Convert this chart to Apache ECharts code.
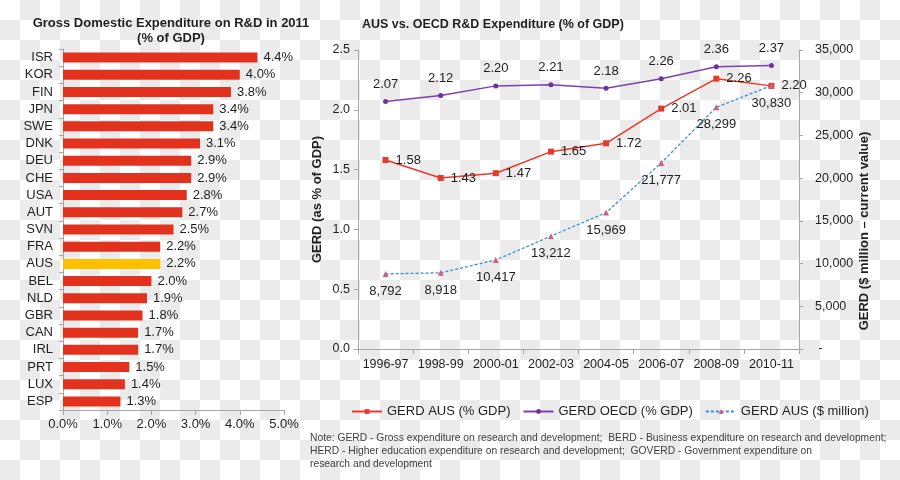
<!DOCTYPE html>
<html>
<head>
<meta charset="utf-8">
<script src="https://cdn.jsdelivr.net/npm/echarts@6/dist/echarts.min.js"></script>
<style>
html,body{margin:0;padding:0;}
body{width:900px;height:480px;background:#fff repeating-conic-gradient(#ebebeb 0 25%, #ffffff 0 50%) 0 0/40px 40px;}
#c{width:900px;height:480px;}
</style>
</head>
<body>
<div id="c"></div>
<script>
// ---- Left chart data ----
var countries = ['ISR','KOR','FIN','JPN','SWE','DNK','DEU','CHE','USA','AUT','SVN','FRA','AUS','BEL','NLD','GBR','CAN','IRL','PRT','LUX','ESP'];
var gerd2011 = [4.4,4.0,3.8,3.4,3.4,3.1,2.9,2.9,2.8,2.7,2.5,2.2,2.2,2.0,1.9,1.8,1.7,1.7,1.5,1.4,1.3];
var highlight = 'AUS';
var leftTicks = ['0.0%','1.0%','2.0%','3.0%','4.0%','5.0%'];

// ---- Right chart data ----
var years = ['1996-97','1998-99','2000-01','2002-03','2004-05','2006-07','2008-09','2010-11'];
var gerdAusPct = [1.58,1.43,1.47,1.65,1.72,2.01,2.26,2.20];
var gerdOecdPct = [2.07,2.12,2.20,2.21,2.18,2.26,2.36,2.37];
var gerdAusMil = [8792,8918,10417,13212,15969,21777,28299,30830];

var FONT = '"Liberation Sans", Arial, sans-serif';
var TXT = '#1f1f1f';
var AX = '#a6a6a6';

function fmtThousands(v){ return String(Math.round(v)).replace(/\B(?=(\d{3})+(?!\d))/g, ','); }

var chart = echarts.init(document.getElementById('c'), null, {renderer:'canvas'});
var option = {
  animation:false,
  textStyle:{fontFamily:FONT},
  title:[
    {text:'Gross Domestic Expenditure on R&D in 2011\n(% of GDP)', left:166, top:11, textAlign:'center',
     textStyle:{fontFamily:FONT, fontSize:13, fontWeight:'bold', color:TXT, lineHeight:15, align:'center'}},
    {text:'AUS vs. OECD R&D Expenditure (% of GDP)', left:357, top:13,
     textStyle:{fontFamily:FONT, fontSize:12.5, fontWeight:'bold', color:TXT}}
  ],
  grid:[
    {left:63, right:616, top:49, bottom:70},
    {left:358, right:101, top:50, bottom:131}
  ],
  legend:{
    left:346, top:400, itemWidth:30, itemHeight:6, itemGap:12,
    textStyle:{fontFamily:FONT, fontSize:13, color:TXT},
    data:['GERD AUS (% GDP)','GERD OECD (% GDP)','GERD AUS ($ million)']
  },
  xAxis:[
    {gridIndex:0, type:'value', min:0, max:5, interval:1,
     axisLine:{show:true, lineStyle:{color:AX}}, axisTick:{show:true, length:5, lineStyle:{color:AX}},
     splitLine:{show:false},
     axisLabel:{color:TXT, fontSize:13, margin:8, formatter:function(v){return leftTicks[Math.round(v)];}}},
    {gridIndex:1, type:'category', data:years, boundaryGap:true,
     axisLine:{lineStyle:{color:AX}}, axisTick:{show:true, length:5, interval:0, alignWithLabel:false, lineStyle:{color:AX}},
     axisLabel:{color:TXT, fontSize:12.5, margin:9, interval:0, hideOverlap:false}}
  ],
  yAxis:[
    {gridIndex:0, type:'category', data:countries, inverse:true,
     axisLine:{lineStyle:{color:AX}}, axisTick:{show:true, length:4, lineStyle:{color:AX}},
     axisLabel:{color:TXT, fontSize:13, margin:10}},
    {gridIndex:1, type:'value', min:0, max:2.5, interval:0.5,
     name:'GERD (as % of GDP)', nameLocation:'middle', nameGap:34, nameRotate:90,
     nameTextStyle:{fontFamily:FONT, fontSize:13, fontWeight:'bold', color:TXT},
     axisLine:{show:true, lineStyle:{color:AX}}, axisTick:{show:true, length:4, lineStyle:{color:AX}},
     splitLine:{show:false},
     axisLabel:{color:TXT, fontSize:12.5, margin:8, formatter:function(v){return v.toFixed(1);}}},
    {gridIndex:1, type:'value', position:'right', min:0, max:35000, interval:5000,
     axisLine:{show:true, lineStyle:{color:AX}}, axisTick:{show:true, length:4, lineStyle:{color:AX}},
     splitLine:{show:false},
     axisLabel:{color:TXT, fontSize:12.5, margin:16, align:'left', formatter:function(v){return v===0?' -':fmtThousands(v);}}}
  ],
  graphic:[
    {type:'text', x:864, y:231, rotation:Math.PI/2,
     style:{text:'GERD ($ million \u2013 current value)', font:'bold 13px '+FONT, fill:TXT, align:'center', verticalAlign:'middle'}},
    {type:'text', left:310, top:432,
     style:{text:'Note: GERD - Gross expenditure on research and development;  BERD - Business expenditure on research and development;\nHERD - Higher education expenditure on research and development;  GOVERD - Government expenditure on\nresearch and development',
            font:'10.3px '+FONT, fill:'#404040', lineHeight:13}}
  ],
  series:[
    {type:'bar', xAxisIndex:0, yAxisIndex:0, barWidth:10,
     data:gerd2011.map(function(v,i){return {value:v, itemStyle:{color: countries[i]===highlight ? '#ffc000' : '#e2321e'}};}),
     label:{show:true, position:'right', distance:6, color:TXT, fontSize:13, formatter:function(p){return p.value.toFixed(1)+'%';}}},
    {name:'GERD AUS (% GDP)', type:'line', xAxisIndex:1, yAxisIndex:1, data:gerdAusPct,
     symbol:'rect', symbolSize:6, itemStyle:{color:'#e8382a'}, lineStyle:{color:'#e8382a', width:1.5},
     label:{show:true, position:'right', distance:7, color:TXT, fontSize:13, formatter:function(p){return p.value.toFixed(2);}}},
    {name:'GERD OECD (% GDP)', type:'line', xAxisIndex:1, yAxisIndex:1, data:gerdOecdPct,
     symbol:'circle', symbolSize:5, itemStyle:{color:'#7030a0'}, lineStyle:{color:'#7f3fb0', width:1.5},
     label:{show:true, position:'top', distance:8, color:TXT, fontSize:13, formatter:function(p){return p.value.toFixed(2);}}},
    {name:'GERD AUS ($ million)', type:'line', xAxisIndex:1, yAxisIndex:2, data:gerdAusMil,
     symbol:'triangle', symbolSize:6, itemStyle:{color:'#d0607a'}, lineStyle:{color:'#3a8ee0', width:1.3, type:[3,2]},
     label:{show:true, position:'bottom', distance:8, color:TXT, fontSize:13, formatter:function(p){return fmtThousands(p.value);}}}
  ]
};
chart.setOption(option);
</script>
</body>
</html>
